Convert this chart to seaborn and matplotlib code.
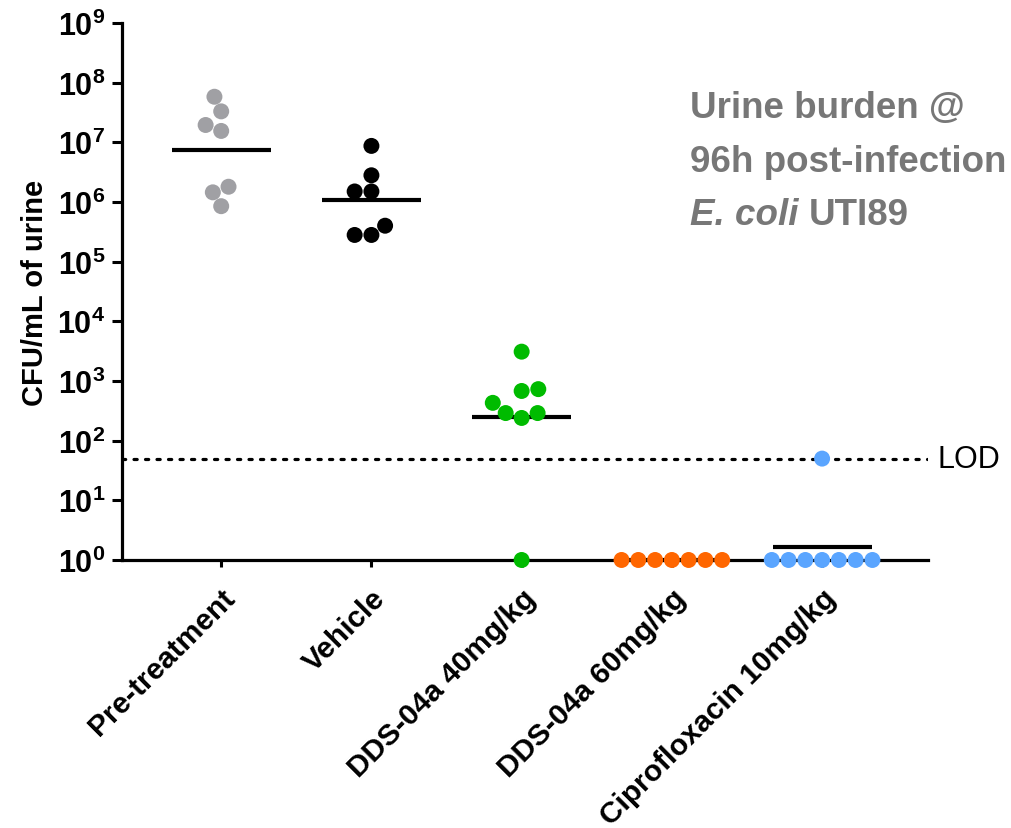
import numpy as np
import pandas as pd
import seaborn as sns
import matplotlib.pyplot as plt

sns.set_style('ticks')
plt.rcParams['font.family'] = ['Liberation Sans', 'DejaVu Sans']
plt.rcParams['mathtext.fontset'] = 'custom'
plt.rcParams['mathtext.rm'] = 'Liberation Sans'
plt.rcParams['mathtext.bf'] = 'Liberation Sans:bold'
plt.rcParams['mathtext.it'] = 'Liberation Sans:italic'
for k in ['text.color', 'axes.labelcolor', 'xtick.color', 'ytick.color', 'axes.edgecolor']:
    plt.rcParams[k] = 'black'

# CFU/mL
groups = ['Pre-treatment', 'Vehicle', 'DDS-04a 40mg/kg', 'DDS-04a 60mg/kg', 'Ciprofloxacin 10mg/kg']
pre_treatment = [5.8e7, 3.3e7, 1.95e7, 1.55e7, 1.8e6, 1.45e6, 8.5e5]
vehicle = [8.7e6, 2.8e6, 1.5e6, 1.5e6, 4.0e5, 2.8e5, 2.8e5]
dds_40 = [3100, 730, 680, 430, 290, 290, 240, 1]
dds_60 = [1, 1, 1, 1, 1, 1, 1]
cipro = [50, 1, 1, 1, 1, 1, 1, 1]
colors = ['#a0a0a4', '#000000', '#00bb00', '#ff6600', '#5aa5ff']
lod = 50

values = [pre_treatment, vehicle, dds_40, dds_60, cipro]
df = pd.DataFrame({'group': np.repeat(groups, [len(v) for v in values]),
                   'cfu': np.concatenate(values)})

fig = plt.figure(figsize=(10.12, 8.29), dpi=100)
ax = fig.add_axes([0.1206, 0.3233, 0.7964, 0.6478])
ax.set_yscale('log')

sns.swarmplot(data=df, x='group', y='cfu', hue='group', palette=colors, order=groups,
              size=11.5, legend=False, clip_on=False, zorder=4, ax=ax)

# geometric mean line per group
gmean = df.groupby('group', sort=False)['cfu'].apply(lambda s: 10 ** np.log10(s).mean())
for i, g in enumerate(groups):
    ax.hlines(gmean[g], i - 0.33, i + 0.33, color='black', lw=3, zorder=3, clip_on=False)

ax.axhline(lod, color='black', lw=2.3, ls=(0, (1, 2.6)), dash_capstyle='round', zorder=2)
ax.text(1.012, lod, 'LOD', transform=ax.get_yaxis_transform(), fontsize=22,
        va='center', ha='left')

ax.set_ylim(1, 1e9)
ax.set_xlim(-0.66, 4.705)
ax.set_yticks(10.0 ** np.arange(10))
ax.set_yticklabels([r'$\mathbf{10^{%d}}$' % i for i in range(10)])
ax.minorticks_off()
ax.tick_params(axis='y', labelsize=22, length=7, width=2.2, pad=5)
ax.tick_params(axis='x', labelsize=21.5, length=5, width=2.2, pad=12)
plt.setp(ax.get_xticklabels(), rotation=45, ha='right', rotation_mode='anchor',
         fontweight='bold')
ax.set_xlabel('')
ax.set_ylabel('CFU/mL of urine', fontsize=21, fontweight='bold', labelpad=6)
for s in ['left', 'bottom']:
    ax.spines[s].set_linewidth(2.3)
sns.despine(ax=ax)

grey = '#777777'
fig.text(0.682, 0.8577, 'Urine burden @', fontsize=26.5, fontweight='bold', color=grey, va='baseline')
fig.text(0.682, 0.7925, '96h post-infection', fontsize=26.5, fontweight='bold', color=grey, va='baseline')
t = fig.text(0.682, 0.7286, 'E. coli', fontsize=26.5, fontweight='bold', style='italic',
             color=grey, va='baseline')
ax.annotate('UTI89', xy=(1, 0), xycoords=t, xytext=(7, 0), textcoords='offset points',
            fontsize=26.5, fontweight='bold', color=grey, va='bottom', ha='left')

fig.savefig('out.png', dpi=100)
